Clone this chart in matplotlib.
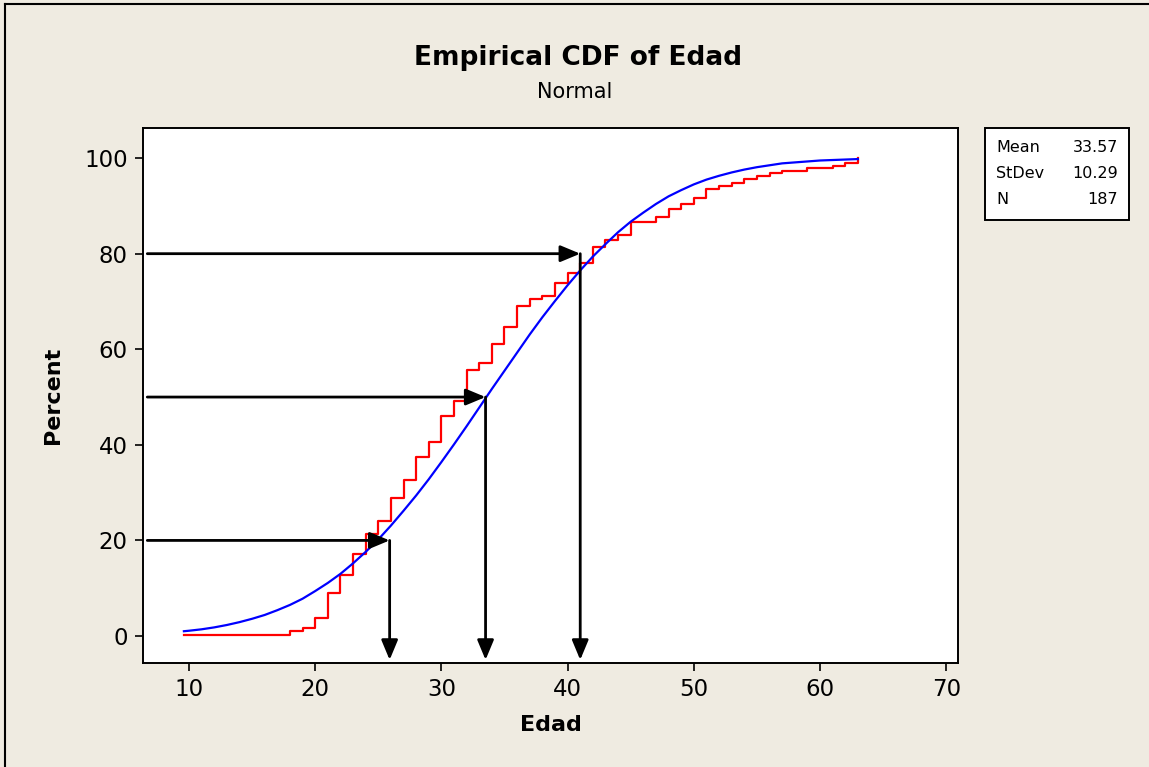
import matplotlib
matplotlib.use("Agg")
import matplotlib.pyplot as plt
from matplotlib.lines import Line2D
from matplotlib.patches import Rectangle

# empirical CDF (red steps), percent
red_age = [9.6, 18, 19, 20, 21, 22, 23, 24, 25, 26, 27, 28, 29, 30, 31, 32, 33, 34,
           35, 36, 37, 38, 39, 40, 41, 42, 43, 44, 45, 47, 48, 49, 50, 51, 52, 53,
           54, 55, 56, 57, 59, 61, 62, 63]
red_pct = [0.3, 1.0, 1.6, 3.7, 8.9, 12.8, 17.1, 21.4, 24.1, 28.9, 32.6, 37.4, 40.6,
           46.0, 49.2, 55.6, 57.2, 61.0, 64.7, 69.0, 70.6, 71.1, 73.8, 75.9, 78.1,
           81.3, 82.9, 84.0, 86.6, 87.7, 89.3, 90.4, 91.7, 93.6, 94.1, 94.7, 95.7,
           96.3, 96.8, 97.3, 97.9, 98.4, 98.9, 100.0]

# fitted normal curve (blue)
blue_age = [9.6] + list(range(10, 64))
blue_pct = [1.0, 1.1, 1.4, 1.8, 2.3, 2.9, 3.6, 4.4, 5.4, 6.5, 7.8, 9.4, 11.1, 13.0,
            15.2, 17.6, 20.2, 23.1, 26.2, 29.4, 32.8, 36.4, 40.1, 43.9, 47.8, 51.7,
            55.5, 59.3, 63.1, 66.7, 70.1, 73.4, 76.5, 79.4, 82.0, 84.5, 86.7, 88.6,
            90.4, 92.0, 93.3, 94.5, 95.5, 96.3, 97.0, 97.6, 98.1, 98.5, 98.9, 99.1,
            99.3, 99.5, 99.6, 99.7, 99.8]

# percentile arrows
arrow_pct = [20, 50, 80]
arrow_age = [25.9, 33.5, 41.0]

stat_names = ["Mean", "StDev", "N"]
stat_values = ["33.57", "10.29", "187"]

bg = "#EFEBE1"
fig = plt.figure(figsize=(11.49, 7.67), dpi=100, facecolor=bg)
W, H = 1149, 767

ax = fig.add_axes([143 / W, 1 - 663 / H, (958 - 143) / W, (663 - 128) / H])
ax.set_facecolor("white")

ax.plot(blue_age, blue_pct, color="#0000FF", lw=1.6, zorder=3)
ax.step(red_age, red_pct, where="post", color="#FF0000", lw=1.6, zorder=2)

head = "-|>,head_length=0.6,head_width=0.25"
for a, p in zip(arrow_age, arrow_pct):
    ax.annotate("", xy=(a, p), xytext=(6.7, p),
                arrowprops=dict(arrowstyle=head, mutation_scale=20, lw=2.0,
                                color="black", shrinkA=0, shrinkB=0), zorder=4)
    ax.annotate("", xy=(a, -5.0), xytext=(a, p),
                arrowprops=dict(arrowstyle=head, mutation_scale=20, lw=2.0,
                                color="black", shrinkA=0, shrinkB=0), zorder=4)

ax.set_xlim(6.36, 70.93)
ax.set_ylim(-5.65, 106.3)
ax.set_xticks([10, 20, 30, 40, 50, 60, 70])
ax.set_yticks([0, 20, 40, 60, 80, 100])
ax.tick_params(direction="out", length=6, width=1.2, labelsize=16.5, pad=5)
for s in ax.spines.values():
    s.set_linewidth(1.4)

ax.set_xlabel("Edad", fontsize=16, fontweight="bold", labelpad=10)
ax.set_ylabel("Percent", fontsize=16, fontweight="bold", labelpad=15)

fig.text(578 / W, 1 - 58 / H, "Empirical CDF of Edad", ha="center", va="center",
         fontsize=19, fontweight="bold")
fig.text(575 / W, 1 - 92 / H, "Normal", ha="center", va="center", fontsize=15)

# stats box
fig.patches.append(Rectangle((985 / W, 1 - 220 / H), (1129 - 985) / W, (220 - 128) / H,
                             transform=fig.transFigure, facecolor="white",
                             edgecolor="black", lw=1.4))
for i, (n, v) in enumerate(zip(stat_names, stat_values)):
    y = 1 - (147 + 26.5 * i) / H
    fig.text(996 / W, y, n, ha="left", va="center", fontsize=11.5)
    fig.text(1118 / W, y, v, ha="right", va="center", fontsize=11.5)

# outer frame (left and top edges)
fig.lines.append(Line2D([5 / W, 5 / W], [0, 1 - 4 / H], transform=fig.transFigure,
                        color="black", lw=1.5))
fig.lines.append(Line2D([5 / W, 1.01], [1 - 4 / H, 1 - 4 / H], transform=fig.transFigure,
                        color="black", lw=1.5))

fig.savefig("out.png", dpi=100, facecolor=bg)
